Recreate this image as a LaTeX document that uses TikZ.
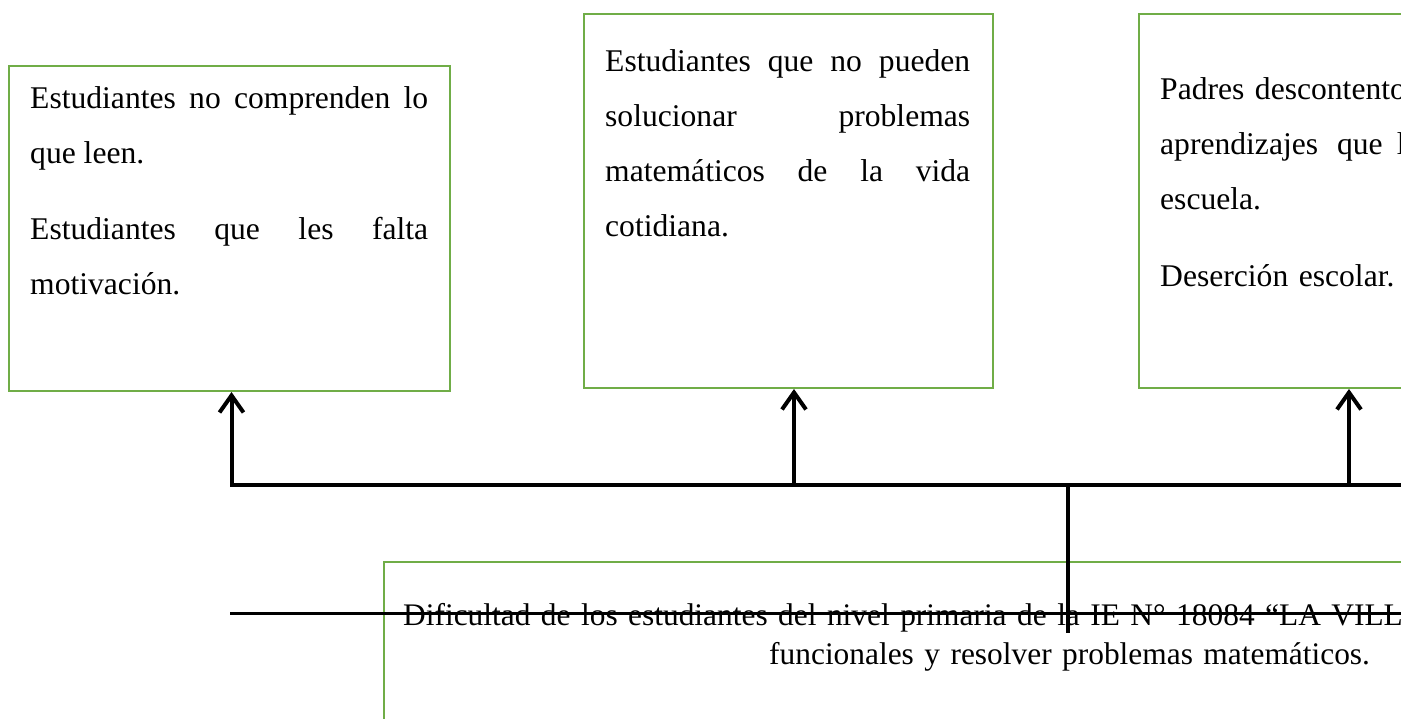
\documentclass[tikz,border=0pt]{standalone}
\usepackage{fontspec}
\setmainfont{Liberation Serif}
\usepackage{tikz}
\usetikzlibrary{arrows.meta}
\usepackage{xcolor}
\definecolor{boxgreen}{RGB}{112,173,71}

\begin{document}
\begin{tikzpicture}[x=1pt, y=-1pt,
	effbox/.style={
  		draw=boxgreen,
  		line width=2pt,
  		inner sep=0pt,
  		anchor=north west
  	},
	txt/.style={
		inner sep=0pt,
		anchor=base west,
		font=\fontsize{31.6}{55}\selectfont
	},
	link/.style={line width=4pt, >={Straight Barb[length=17pt,width=24pt]}}]

	\useasboundingbox (0,0) rectangle (1401,719);
	\clip (0,0) rectangle (1401,719);

	% effect boxes
	\node[effbox, minimum width=441, minimum height=325] (e1) at (8,65) {};
	\node[effbox, minimum width=409, minimum height=374] (e2) at (583,13) {};
	\node[effbox, minimum width=420, minimum height=374] (e3) at (1138,13) {};

	\node[txt, text width=398, align=justify] (t1) at (30,109)
		{Estudiantes\hfill no\hfill comprenden\hfill lo\\ que leen.\\[21pt]
		 Estudiantes\hfill que\hfill les\hfill falta\\ motivación.};
	\node[txt, text width=365, align=justify] (t2) at (605,72)
		{Estudiantes\hfill que\hfill no\hfill pueden\\ solucionar\hfill problemas\\
		 matemáticos\hfill de\hfill la\hfill vida\\ cotidiana.};
	\node[txt, text width=400, align=left] (t3) at (1160,100)
		{Padres descontento\\ aprendizajes\hspace{19pt}que\hspace{14pt}l\\ escuela.\\[22pt]
		 Deserción escolar.};

	% problem box
	\node[effbox, minimum width=1500, minimum height=300] (prob) at (383,561) {};
	\node[txt, text width=1300, align=left, font=\fontsize{31.4}{39}\selectfont] (tp) at (403,625)
		{Dificultad de los estudiantes del nivel primaria de la IE N° 18084 “LA VILLA\\
		 \hspace*{366pt}funcionales y resolver problemas matemáticos.};

	% connectors
	\coordinate (busR) at (1420,485);
	\coordinate (stem) at (1068,633);
	\coordinate (strikeL) at (230,613);
	\coordinate (strikeR) at (1420,613);

	\draw[link, <-] ([xshift=2pt]e1.south) |- (busR);
	\draw[link, <-] ([xshift=5.5pt]e2.south) -- ([xshift=5.5pt]e2.south |- busR);
	\draw[link, <-] (e3.south) -- (e3.south |- busR);
	\draw[link] (stem |- busR) -- (stem);
	\draw[line width=3pt] (strikeL) -- (strikeR);
\end{tikzpicture}
\end{document}
